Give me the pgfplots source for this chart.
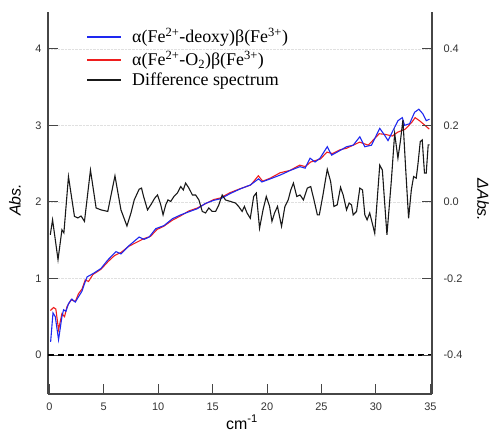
\documentclass[border=0pt]{standalone}
\usepackage{fontspec}
\setmainfont{Liberation Serif}
\setsansfont{Liberation Sans}
\usepackage{pgfplots}
\pgfplotsset{compat=1.18}
\definecolor{specBlue}{RGB}{30,40,240}
\definecolor{specRed}{RGB}{238,30,30}
\definecolor{axGray}{RGB}{70,70,70}

\pgfplotsset{
  specaxis/.style={
    scale only axis, width=384bp, height=382bp,
    xmin=-0.12, xmax=35.15,
    tick align=inside, major tick length=10bp,
    every tick/.style={axGray, line width=0.9bp},
    axis line style={-, axGray, line width=1.2bp},
    tick label style={font=\sffamily\fontsize{11}{13}\selectfont, text=black!80},
    /pgf/number format/assume math mode=true,
  },
}

\begin{document}
\begin{tikzpicture}
\path[use as bounding box] (-48bp,-37bp) rectangle (443bp,394bp);
% left axis: absorbance spectra
\begin{axis}[specaxis,
    axis x line*=bottom, axis y line*=left,
    ymin=-0.51, ymax=4.48,
    xtick={0,5,...,35}, ytick={0,1,2,3,4},
    xticklabel style={yshift=-5bp},
    yticklabel style={xshift=-3bp},
    ymajorgrids, grid style={densely dotted, black!12},
]
\addplot[black, dashed, line width=1.1bp, dash pattern=on 6bp off 4bp]
  coordinates {(-0.12,0)(35.15,0)};
% alpha(Fe2+-O2) beta(Fe3+)
\addplot[specRed, line width=1.1bp] coordinates {
(0.1,0.58)(0.39,0.62)(0.6,0.60)(0.85,0.33)(1.16,0.54)(1.40,0.50)(1.62,0.63)
(2.0,0.72)(2.4,0.70)(2.68,0.80)(3.0,0.86)(3.3,0.98)(3.6,0.96)(4.0,1.05)
(4.75,1.12)(5.4,1.22)(6.0,1.30)(6.6,1.34)(7.3,1.42)(8.0,1.47)(8.7,1.52)
(9.3,1.55)(9.9,1.64)(10.5,1.68)(11.3,1.76)(12.1,1.82)(12.8,1.88)(13.6,1.92)
(14.4,1.98)(15.1,2.03)(15.7,2.05)(16.6,2.12)(17.5,2.17)(18.5,2.22)(19.2,2.34)
(19.6,2.27)(20.3,2.31)(21.2,2.38)(22.1,2.41)(23.0,2.48)(23.5,2.46)(24.0,2.52)
(24.9,2.56)(25.5,2.65)(26.0,2.63)(26.7,2.68)(27.3,2.70)(27.9,2.74)(28.5,2.78)
(29.3,2.74)(30.3,2.89)(30.9,2.88)(31.5,2.86)(32.0,2.91)(32.7,2.95)(33.3,3.04)
(33.6,3.10)(34.0,3.06)(34.5,3.00)(34.9,2.95)
};
% alpha(Fe2+-deoxy) beta(Fe3+)
\addplot[specBlue, line width=1.1bp] coordinates {
(0.12,0.17)(0.34,0.55)(0.55,0.50)(0.85,0.20)(1.16,0.50)(1.31,0.59)(1.53,0.57)
(1.76,0.67)(2.07,0.73)(2.38,0.69)(2.68,0.76)(2.99,0.83)(3.23,0.93)(3.47,1.02)
(3.99,1.06)(4.75,1.13)(5.37,1.24)(6.12,1.35)(6.58,1.32)(7.34,1.43)(8.25,1.54)
(8.71,1.51)(9.17,1.54)(9.78,1.65)(10.54,1.69)(11.31,1.78)(12.07,1.83)(12.82,1.87)
(13.59,1.91)(14.35,1.98)(15.11,2.02)(15.72,2.04)(16.64,2.11)(17.55,2.17)(18.46,2.22)
(19.22,2.30)(19.53,2.26)(20.29,2.30)(21.21,2.35)(22.12,2.41)(23.03,2.46)(23.49,2.44)
(23.95,2.57)(24.41,2.52)(24.86,2.57)(25.53,2.72)(25.93,2.61)(26.69,2.67)(27.30,2.72)
(27.91,2.74)(28.52,2.85)(28.98,2.72)(29.59,2.74)(30.35,2.96)(30.80,2.87)(31.11,2.80)
(31.56,2.93)(32.02,3.06)(32.42,3.10)(32.63,3.00)(33.09,3.02)(33.55,3.17)(33.94,3.21)
(34.31,3.15)(34.62,3.06)(34.92,3.08)
};
\end{axis}
% right axis: difference spectrum
\begin{axis}[specaxis,
    axis x line=none, axis y line*=right,
    ymin=-0.502, ymax=0.496,
    ytick={-0.4,-0.2,0,0.2,0.4},
    yticklabel style={xshift=8bp, /pgf/number format/.cd, fixed, fixed zerofill, precision=1},
]
\addplot[black!90, line width=1.1bp] coordinates {
(0.09,-0.086)(0.30,-0.047)(0.80,-0.151)(1.16,-0.073)(1.34,-0.081)(1.76,0.066)
(2.31,-0.038)(2.62,-0.042)(2.92,-0.037)(3.23,-0.051)(3.78,0.083)(4.30,-0.016)
(4.75,-0.021)(5.37,-0.025)(6.03,0.068)(6.58,-0.021)(7.13,-0.063)(7.50,-0.029)
(7.80,0.005)(8.25,0.033)(8.47,0.036)(8.66,0.014)(9.02,-0.021)(9.32,-0.008)
(9.69,0.010)(9.94,0.018)(10.24,-0.008)(10.45,-0.034)(10.69,-0.008)(10.90,0.005)
(11.15,0.001)(11.45,0.014)(11.76,0.023)(12.07,0.040)(12.31,0.031)(12.52,0.049)
(12.82,0.036)(13.14,0.018)(13.44,0.018)(13.74,0.005)(14.05,-0.025)(14.35,-0.029)
(14.65,-0.016)(14.96,-0.025)(15.27,-0.025)(15.57,-0.008)(15.88,0.018)(16.18,0.005)
(16.64,0.001)(17.09,-0.003)(17.39,-0.012)(17.71,-0.025)(17.92,-0.012)(18.16,-0.029)
(18.46,-0.043)(18.77,0.014)(19.01,0.023)(19.31,-0.069)(19.63,-0.021)(19.93,0.014)
(20.23,-0.012)(20.45,-0.051)(20.69,-0.029)(20.96,-0.012)(21.33,-0.064)(21.64,-0.012)
(21.94,0.005)(22.18,0.031)(22.42,0.049)(22.73,0.014)(23.03,0.018)(23.34,0.005)
(23.70,0.036)(24.01,0.040)(24.31,0.005)(24.62,-0.034)(24.80,-0.034)(25.11,0.014)
(25.53,0.085)(25.84,0.053)(26.14,-0.012)(26.44,-0.008)(26.75,0.038)(26.99,0.018)
(27.30,-0.021)(27.54,-0.003)(27.76,-0.008)(27.91,-0.034)(28.22,-0.025)(28.52,0.036)
(28.77,0.031)(28.98,-0.034)(29.19,-0.047)(29.43,-0.029)(29.89,-0.082)(30.35,0.096)
(30.59,0.083)(31.01,-0.086)(31.42,0.057)(31.72,0.179)(32.02,0.114)(32.24,0.157)
(32.48,0.214)(32.72,0.092)(33.00,-0.043)(33.25,0.031)(33.46,0.066)(33.70,0.062)
(33.85,0.096)(34.07,0.157)(34.25,0.162)(34.46,0.075)(34.62,0.075)(34.80,0.149)
(34.92,0.149)
};
\end{axis}
% legend (drawn by hand: line sample + text)
\begin{scope}[every node/.style={anchor=base west, inner sep=0pt, font=\fontsize{18}{20}\selectfont}]
\draw[specBlue, line width=1.1bp] (39bp,357bp) -- (73bp,357bp);
\node at (84bp,351bp) {α(Fe\textsuperscript{2+}-deoxy)β(Fe\textsuperscript{3+})};
\draw[specRed, line width=1.1bp] (39bp,334bp) -- (73bp,334bp);
\node at (84bp,328bp) {α(Fe\textsuperscript{2+}-O\textsubscript{2})β(Fe\textsuperscript{3+})};
\draw[black!90, line width=1.1bp] (39bp,314bp) -- (73bp,314bp);
\node at (84bp,308bp) {Difference spectrum};
\end{scope}
\node[rotate=90, font=\sffamily\itshape\fontsize{16}{18}\selectfont] at (-33bp,194bp) {Abs.};
\node[rotate=-90, font=\sffamily\itshape\fontsize{16}{18}\selectfont] at (435bp,194bp) {ΔAbs.};
\node[anchor=base, font=\sffamily\fontsize{16}{18}\selectfont] at (194bp,-35bp) {cm\textsuperscript{-1}};
\end{tikzpicture}
\end{document}
